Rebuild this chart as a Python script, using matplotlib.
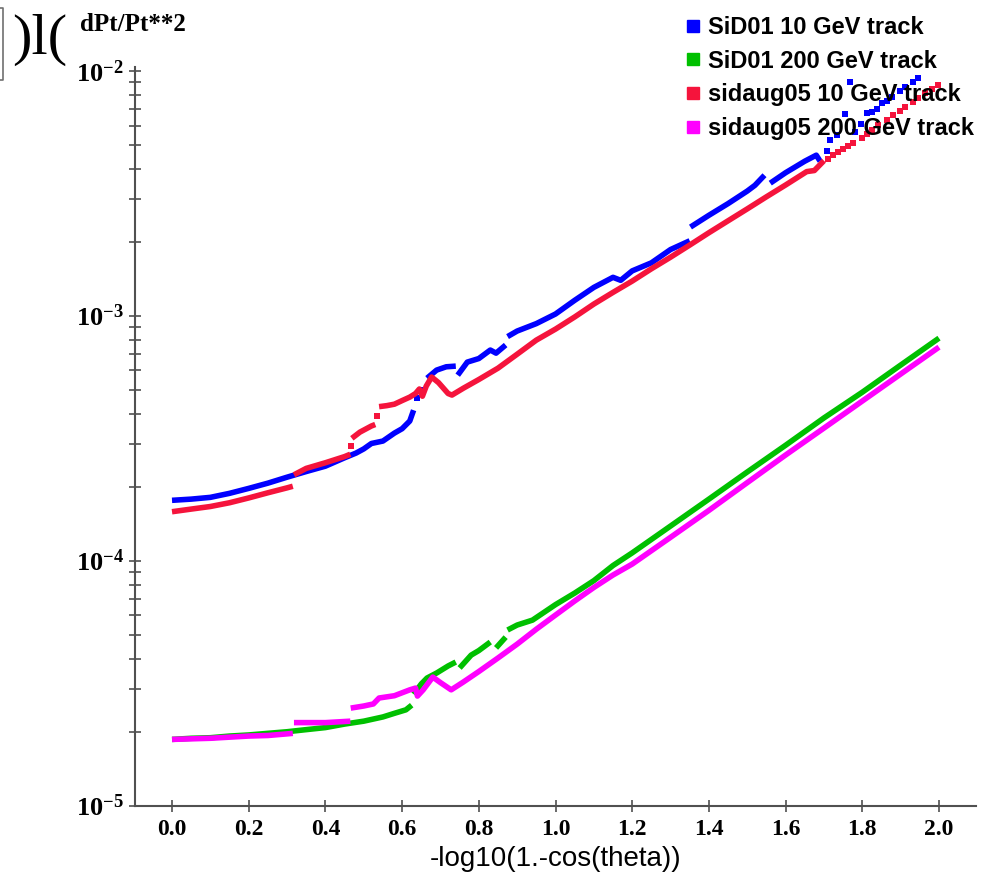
from __future__ import annotations

import matplotlib

matplotlib.use("Agg")
import matplotlib.pyplot as plt
import numpy as np
from matplotlib.lines import Line2D
from matplotlib.ticker import FixedLocator, FormatStrFormatter, LogLocator, NullFormatter

nan = np.nan

# x = -log10(1 - cos(theta)), y = dPt/Pt**2 ; nan splits the curve where it jumps
SID01_10_X = [0.00, 0.05, 0.10, 0.15, 0.20, 0.25, 0.30, 0.35, 0.40, 0.45, 0.48, 0.50, 0.52, 0.55,
              0.58, 0.60, 0.62, 0.63, nan,
              0.665, 0.69, 0.715, 0.74, nan,
              0.745, 0.77, 0.80, 0.83, 0.845, 0.87, nan,
              0.875, 0.90, 0.95, 1.00, 1.05, 1.10, 1.15, 1.17, 1.20, 1.25, 1.30, 1.35, nan,
              1.352, 1.40, 1.45, 1.50, 1.52, 1.545, nan,
              1.56, 1.60, 1.65, 1.68, 1.69]
SID01_10_Y = [1.77e-4, 1.79e-4, 1.82e-4, 1.89e-4, 1.98e-4, 2.08e-4, 2.20e-4, 2.32e-4, 2.44e-4, 2.64e-4,
              2.76e-4, 2.87e-4, 3.02e-4, 3.09e-4, 3.33e-4, 3.47e-4, 3.73e-4, 4.13e-4, nan,
              5.58e-4, 6.02e-4, 6.21e-4, 6.25e-4, nan,
              5.74e-4, 6.49e-4, 6.71e-4, 7.27e-4, 7.06e-4, 7.62e-4, nan,
              8.25e-4, 8.69e-4, 9.32e-4, 1.02e-3, 1.16e-3, 1.31e-3, 1.44e-3, 1.40e-3, 1.53e-3, 1.65e-3,
              1.87e-3, 2.03e-3, nan,
              2.31e-3, 2.58e-3, 2.88e-3, 3.24e-3, 3.42e-3, 3.76e-3, nan,
              3.49e-3, 3.85e-3, 4.29e-3, 4.54e-3, 4.29e-3]
SID01_10_DOT_X = [0.638, 0.655, 1.707, 1.716, 1.733, 1.755, 1.768, 1.781, 1.797, 1.811, 1.825, 1.838,
                  1.851, 1.864, 1.877, 1.899, 1.911, 1.933, 1.946]
SID01_10_DOT_Y = [4.63e-4, 4.99e-4, 4.73e-3, 5.26e-3, 5.48e-3, 6.66e-3, 8.99e-3, 5.64e-3, 6.08e-3,
                  6.72e-3, 6.82e-3, 7.04e-3, 7.38e-3, 7.55e-3, 7.85e-3, 8.28e-3, 8.63e-3, 9.04e-3, 9.42e-3]

SID01_200_X = [0.00, 0.05, 0.10, 0.15, 0.20, 0.25, 0.30, 0.35, 0.40, 0.45, 0.50, 0.55, 0.58, 0.61, 0.625, nan,
               0.63, 0.65, 0.665, 0.69, 0.72, 0.74, nan,
               0.75, 0.78, 0.80, 0.83, nan,
               0.845, 0.87, nan,
               0.875, 0.90, 0.94, 1.00, 1.05, 1.10, 1.15, 1.20, 1.30, 1.40, 1.50, 1.60, 1.70, 1.80,
               1.90, 2.00]
SID01_200_Y = [1.87e-5, 1.89e-5, 1.90e-5, 1.93e-5, 1.95e-5, 1.98e-5, 2.01e-5, 2.05e-5, 2.09e-5, 2.16e-5,
               2.22e-5, 2.31e-5, 2.39e-5, 2.47e-5, 2.58e-5, nan,
               2.86e-5, 3.15e-5, 3.33e-5, 3.49e-5, 3.73e-5, 3.87e-5, nan,
               3.66e-5, 4.13e-5, 4.31e-5, 4.67e-5, nan,
               4.42e-5, 4.89e-5, nan,
               5.23e-5, 5.48e-5, 5.74e-5, 6.64e-5, 7.40e-5, 8.32e-5, 9.59e-5, 1.08e-4, 1.39e-4, 1.79e-4,
               2.31e-4, 2.97e-4, 3.84e-4, 4.89e-4, 6.31e-4, 8.13e-4]
SID01_200_DOT_X: list[float] = []
SID01_200_DOT_Y: list[float] = []

AUG05_10_X = [0.00, 0.05, 0.10, 0.15, 0.20, 0.25, 0.30, 0.315, nan,
              0.318, 0.35, 0.40, 0.45, 0.465, nan,
              0.469, 0.49, 0.52, 0.53, nan,
              0.54, 0.56, 0.58, 0.60, 0.62, 0.635, 0.645, 0.653, 0.663, 0.677, 0.695, 0.72, 0.73, 0.76,
              0.80, 0.85, 0.90, 0.95, 1.00, 1.05, 1.10, 1.15, 1.20, 1.25, 1.30, 1.35, 1.40, 1.45, 1.50,
              1.55, 1.60, 1.655, 1.675, 1.70]
AUG05_10_Y = [1.59e-4, 1.63e-4, 1.67e-4, 1.73e-4, 1.81e-4, 1.90e-4, 1.99e-4, 2.02e-4, nan,
              2.25e-4, 2.39e-4, 2.52e-4, 2.67e-4, 2.73e-4, nan,
              3.17e-4, 3.36e-4, 3.56e-4, 3.61e-4, nan,
              4.27e-4, 4.31e-4, 4.37e-4, 4.52e-4, 4.67e-4, 4.83e-4, 5.04e-4, 4.71e-4, 5.18e-4, 5.64e-4,
              5.35e-4, 4.83e-4, 4.76e-4, 5.08e-4, 5.51e-4, 6.13e-4, 6.99e-4, 7.98e-4, 8.85e-4, 9.92e-4,
              1.12e-3, 1.25e-3, 1.39e-3, 1.56e-3, 1.74e-3, 1.95e-3, 2.19e-3, 2.45e-3, 2.74e-3, 3.07e-3,
              3.43e-3, 3.89e-3, 3.93e-3, 4.31e-3]
AUG05_10_DOT_X = [0.466, 0.534, 1.711, 1.724, 1.737, 1.750, 1.763, 1.777, 1.798, 1.811, 1.825, 1.842,
                  1.864, 1.881, 1.899, 1.911, 1.933, 1.946, 1.963, 1.981, 1.998]
AUG05_10_DOT_Y = [2.96e-4, 3.92e-4, 4.39e-3, 4.54e-3, 4.67e-3, 4.81e-3, 4.94e-3, 5.08e-3, 5.36e-3,
                  5.53e-3, 5.74e-3, 6.02e-3, 6.31e-3, 6.61e-3, 6.89e-3, 7.15e-3, 7.49e-3, 7.78e-3,
                  8.11e-3, 8.45e-3, 8.77e-3]

AUG05_200_X = [0.00, 0.05, 0.10, 0.15, 0.20, 0.25, 0.30, 0.315, nan,
               0.318, 0.40, 0.465, nan,
               0.466, 0.50, 0.525, 0.54, 0.58, 0.62, 0.635, 0.64, 0.655, 0.68, 0.70, 0.728, 0.76, 0.80,
               0.85, 0.90, 0.95, 1.00, 1.05, 1.10, 1.15, 1.20, 1.30, 1.40, 1.50, 1.60, 1.70, 1.80, 1.90,
               2.00]
AUG05_200_Y = [1.87e-5, 1.88e-5, 1.89e-5, 1.91e-5, 1.93e-5, 1.94e-5, 1.97e-5, 1.98e-5, nan,
               2.19e-5, 2.19e-5, 2.22e-5, nan,
               2.51e-5, 2.56e-5, 2.61e-5, 2.76e-5, 2.82e-5, 2.98e-5, 3.03e-5, 2.81e-5, 2.98e-5, 3.36e-5,
               3.19e-5, 2.98e-5, 3.21e-5, 3.54e-5, 4.02e-5, 4.58e-5, 5.27e-5, 6.02e-5, 6.87e-5, 7.80e-5,
               8.77e-5, 9.72e-5, 1.25e-4, 1.61e-4, 2.09e-4, 2.71e-4, 3.49e-4, 4.50e-4, 5.80e-4, 7.47e-4]
AUG05_200_DOT_X: list[float] = []
AUG05_200_DOT_Y: list[float] = []

LABELS = ["SiD01 10 GeV track", "SiD01 200 GeV track", "sidaug05 10 GeV track", "sidaug05 200 GeV track"]
COLORS = ["#0000ff", "#00c000", "#f5143c", "#ff00ff"]

X_TICKS = [0.0, 0.2, 0.4, 0.6, 0.8, 1.0, 1.2, 1.4, 1.6, 1.8, 2.0]
Y_TICKS = [1e-5, 1e-4, 1e-3, 1e-2]
Y_TICK_LABELS = [r"$10^{-5}$", r"$10^{-4}$", r"$10^{-3}$", r"$10^{-2}$"]

AXIS_GRAY = "#505050"


def main() -> None:
    plt.rcParams["mathtext.fontset"] = "custom"
    plt.rcParams["mathtext.rm"] = "Liberation Serif:bold"
    plt.rcParams["mathtext.bf"] = "Liberation Serif:bold"
    plt.rcParams["mathtext.it"] = "Liberation Serif:bold:italic"
    plt.rcParams["mathtext.default"] = "rm"

    W, H = 981, 875
    fig = plt.figure(figsize=(W / 100, H / 100), dpi=100)
    ax = fig.add_axes([135 / W, 69 / H, 841 / W, 739 / H])

    series = [
        (SID01_10_X, SID01_10_Y, SID01_10_DOT_X, SID01_10_DOT_Y),
        (SID01_200_X, SID01_200_Y, SID01_200_DOT_X, SID01_200_DOT_Y),
        (AUG05_10_X, AUG05_10_Y, AUG05_10_DOT_X, AUG05_10_DOT_Y),
        (AUG05_200_X, AUG05_200_Y, AUG05_200_DOT_X, AUG05_200_DOT_Y),
    ]
    for (xs, ys, dx, dy), color in zip(series, COLORS):
        ax.plot(xs, ys, color=color, lw=4.0, solid_capstyle="butt")
        if dx:
            ax.plot(dx, dy, ls="none", marker="s", ms=3.8, mfc=color, mec=color, mew=0)

    ax.set_yscale("log")
    ax.set_xlim(-0.0965, 2.0965)
    ax.set_ylim(1e-5, 1.04e-2)

    for side in ("top", "right"):
        ax.spines[side].set_visible(False)
    for side in ("left", "bottom"):
        ax.spines[side].set_color(AXIS_GRAY)
        ax.spines[side].set_linewidth(1.5)

    ax.xaxis.set_major_locator(FixedLocator(X_TICKS))
    ax.xaxis.set_major_formatter(FormatStrFormatter("%.1f"))
    ax.yaxis.set_major_locator(FixedLocator(Y_TICKS))
    ax.set_yticklabels(Y_TICK_LABELS)
    ax.yaxis.set_minor_locator(LogLocator(base=10, subs=range(2, 10)))
    ax.yaxis.set_minor_formatter(NullFormatter())

    ax.tick_params(axis="x", which="major", direction="inout", length=9, width=1.2, color=AXIS_GRAY,
                   labelsize=17, pad=5)
    ax.tick_params(axis="y", which="both", direction="inout", length=8, width=1.2, color=AXIS_GRAY,
                   labelsize=19, pad=4)
    for lab in ax.get_xticklabels():
        lab.set_fontfamily("Liberation Serif")
        lab.set_fontweight("bold")

    ax.set_xlabel("-log10(1.-cos(theta))", fontsize=20, fontfamily="Liberation Sans", labelpad=4)

    fig.text(80 / W, 1 - 31 / H, "dPt/Pt**2", fontsize=18, fontfamily="Liberation Serif",
             fontweight="bold", va="baseline")
    fig.text(12 / W, 1 - 54 / H, ")l(", fontsize=42, fontfamily="Liberation Serif", va="baseline")
    fig.add_artist(Line2D([0, 3 / W, 3 / W, 0], [1 - 8 / H, 1 - 8 / H, 1 - 80 / H, 1 - 80 / H],
                          transform=fig.transFigure, color="#707070", lw=1.2))

    handles = [Line2D([], [], ls="none", marker="s", ms=9, mfc=c, mec=c) for c in COLORS]
    leg = ax.legend(handles, LABELS, loc="upper left", bbox_to_anchor=(686 / W, 1 - 16 / H),
                    bbox_transform=fig.transFigure, frameon=False, borderpad=0, borderaxespad=0,
                    handlelength=0.6, handletextpad=0.35, labelspacing=0.45,
                    prop={"family": "Liberation Sans", "weight": "bold", "size": 17})
    leg.set_zorder(10)

    fig.savefig("out.png", dpi=100)
    plt.close(fig)


if __name__ == "__main__":
    main()
